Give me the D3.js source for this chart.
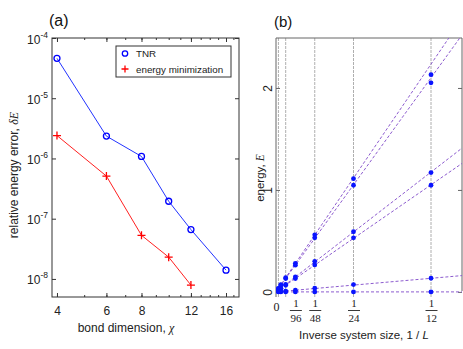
<!DOCTYPE html>
<html>
<head>
<meta charset="utf-8">
<script src="https://cdn.jsdelivr.net/npm/d3@7"></script>
<style>
  body { margin: 0; background: #fff; }
  svg { display: block; }
  text { font-family: "Liberation Sans", Arial, sans-serif; }
</style>
</head>
<body>
<script>
// ---- panel (a) data: relative energy error vs bond dimension ----
var chiTNR = [4, 6, 8, 10, 12, 16];
var errTNR = [4.6e-5, 2.35e-6, 1.08e-6, 1.95e-7, 6.6e-8, 1.4e-8];
var chiEM = [4, 6, 8, 10, 12];
var errEM = [2.4e-6, 5.1e-7, 5.3e-8, 2.3e-8, 7.9e-9];
var xTicksA = [4, 6, 8, 12, 16];
var xMinorA = [4, 5, 6, 7, 8, 9, 10, 11, 12, 13, 14, 15, 16, 17];
var yTicksA = [-4, -5, -6, -7, -8];

// ---- panel (b) data: energies vs inverse size ----
var sizes = [12, 24, 48, 96, 192, 384, 768];
var lev1 = [2.13, 1.11, 0.56, 0.28, 0.139, 0.07, 0.035];
var lev2 = [2.05, 1.046, 0.53, 0.262, 0.131, 0.065, 0.033];
var lev3 = [1.17, 0.59, 0.30, 0.148, 0.074, 0.037, 0.018];
var lev4 = [1.046, 0.53, 0.265, 0.131, 0.065, 0.033, 0.016];
var lev5 = [0.134, 0.072, 0.036, 0.016, 0.008, 0.004, 0.002];
var lev6 = [0, 0, 0, 0, 0, 0, 0];
var fitSlopes = [26.8, 25.2, 14.1, 12.6, 1.6, 0];   // dashed lines E = s / L
var gridSizes = [12, 24, 48, 192, 768];
var xTickDen = [96, 48, 24, 12];
var yTicksB = [0, 1, 2];

var W = 463, H = 349;
var svg = d3.select("body").append("svg").attr("width", W).attr("height", H);
var axCol = "#333";

// ================= panel (a) =================
var a = {left: 52, right: 239, top: 38, bottom: 297};
var xA = d3.scaleLog().domain([3.84, 17.8]).range([a.left, a.right]);
var yA = d3.scaleLog().domain([Math.pow(10, -8.3), 1e-4]).range([a.bottom, a.top]);

var gA = svg.append("g");

// box
gA.append("rect").attr("x", a.left).attr("y", a.top)
  .attr("width", a.right - a.left).attr("height", a.bottom - a.top)
  .attr("fill", "none").attr("stroke", axCol).attr("stroke-width", 1);

function styleAxis(g) {
  g.select(".domain").remove();
  g.selectAll("line").attr("stroke", axCol);
}

// minor + major ticks bottom/top
gA.append("g").attr("transform", "translate(0," + a.bottom + ")")
  .call(d3.axisBottom(xA).tickValues(xMinorA).tickSize(-2).tickFormat("")).call(styleAxis);
gA.append("g").attr("transform", "translate(0," + a.top + ")")
  .call(d3.axisTop(xA).tickValues(xMinorA).tickSize(-2).tickFormat("")).call(styleAxis);
gA.append("g").attr("transform", "translate(0," + a.top + ")")
  .call(d3.axisTop(xA).tickValues(xTicksA).tickSize(-4).tickFormat("")).call(styleAxis);
var xAxA = gA.append("g").attr("transform", "translate(0," + a.bottom + ")")
  .call(d3.axisBottom(xA).tickValues(xTicksA).tickSize(-4).tickPadding(9).tickFormat(d3.format("d")))
  .call(styleAxis);
xAxA.selectAll("text").attr("font-size", 12).attr("fill", "#222")
  .style("font-family", "'Liberation Sans', Arial, sans-serif");

// y ticks left/right
var yAxA = gA.append("g").attr("transform", "translate(" + a.left + ",0)")
  .call(d3.axisLeft(yA).tickValues(yTicksA.map(function(e) { return Math.pow(10, e); }))
    .tickSize(-4).tickFormat("")).call(styleAxis);
gA.append("g").attr("transform", "translate(" + a.right + ",0)")
  .call(d3.axisRight(yA).tickValues(yTicksA.map(function(e) { return Math.pow(10, e); }))
    .tickSize(-4).tickFormat("")).call(styleAxis);

yAxA.selectAll(".tick").append("text")
  .attr("x", -4).attr("y", 5).attr("text-anchor", "end").attr("fill", "#222")
  .attr("font-size", 12)
  .each(function(d) {
    var t = d3.select(this);
    t.append("tspan").text("10");
    t.append("tspan").attr("font-size", 8.5).attr("dy", -6)
      .text("-" + Math.round(-Math.log10(d)));
  });

// lines
var lineA = d3.line().x(function(d) { return xA(d[0]); }).y(function(d) { return yA(d[1]); });
var tnr = chiTNR.map(function(c, i) { return [c, errTNR[i]]; });
var em = chiEM.map(function(c, i) { return [c, errEM[i]]; });

gA.append("path").datum(tnr).attr("d", lineA)
  .attr("fill", "none").attr("stroke", "#2233ff").attr("stroke-width", 1);
gA.append("path").datum(em).attr("d", lineA)
  .attr("fill", "none").attr("stroke", "#ff2020").attr("stroke-width", 1);

gA.selectAll(".tnr").data(tnr).enter().append("circle")
  .attr("cx", function(d) { return xA(d[0]); })
  .attr("cy", function(d) { return yA(d[1]); })
  .attr("r", 3).attr("fill", "none").attr("stroke", "#0000ff").attr("stroke-width", 1.3);

function plus(g, x, y, s) {
  g.append("path").attr("d", "M" + (x - s) + "," + y + "H" + (x + s) + "M" + x + "," + (y - s) + "V" + (y + s))
    .attr("stroke", "#ff0000").attr("stroke-width", 1.3);
}
em.forEach(function(d) { plus(gA, xA(d[0]), yA(d[1]), 4); });

// legend
gA.append("rect").attr("x", 116).attr("y", 46).attr("width", 115).attr("height", 31)
  .attr("fill", "#fff").attr("stroke", axCol).attr("stroke-width", 1);
gA.append("circle").attr("cx", 125).attr("cy", 53.5).attr("r", 2.7)
  .attr("fill", "none").attr("stroke", "#0000ff").attr("stroke-width", 1.3);
plus(gA, 125, 69, 3.5);
gA.append("text").attr("x", 136).attr("y", 57).attr("font-size", 9.8).attr("fill", "#222").text("TNR");
gA.append("text").attr("x", 136).attr("y", 73).attr("font-size", 9.8).attr("fill", "#222").text("energy minimization");

// labels
gA.append("text").attr("x", 49).attr("y", 26).attr("font-size", 16).attr("fill", "#111").text("(a)");
gA.append("text").attr("x", 126).attr("y", 332).attr("text-anchor", "middle")
  .attr("font-size", 12).attr("fill", "#222")
  .html("bond dimension, <tspan font-family='Liberation Serif' font-style='italic'>χ</tspan>");
gA.append("text").attr("transform", "translate(18,175) rotate(-90)").attr("text-anchor", "middle")
  .attr("font-size", 12).attr("fill", "#222")
  .html("relative energy error, <tspan font-family='Liberation Serif' font-style='italic'>δE</tspan>");

// ================= panel (b) =================
var b = {left: 276, right: 462, top: 38, bottom: 297};
var xB = d3.scaleLinear().domain([0, 0.1]).range([b.left, b.right]);
var yB = d3.scaleLinear().domain([-0.05, 2.49]).range([b.bottom, b.top]);

var gB = svg.append("g");

gB.append("defs").append("clipPath").attr("id", "clipB")
  .append("rect").attr("x", b.left).attr("y", b.top)
  .attr("width", b.right - b.left).attr("height", b.bottom - b.top);

// grid lines
gB.selectAll(".grid").data(gridSizes).enter().append("line")
  .attr("x1", function(d) { return xB(1 / d); }).attr("x2", function(d) { return xB(1 / d); })
  .attr("y1", b.top).attr("y2", b.bottom + 1)
  .attr("stroke", "#9a9a9a").attr("stroke-width", 0.8).attr("stroke-dasharray", "3,1");

// axes lines
gB.append("path").attr("d", "M" + b.left + "," + b.bottom + "V" + b.top + "H" + b.right + "V" + (b.bottom - 6))
  .attr("fill", "none").attr("stroke", "#666").attr("stroke-width", 1);

var yAxB = gB.append("g").attr("transform", "translate(" + b.left + ",0)")
  .call(d3.axisLeft(yB).tickValues(yTicksB).tickSize(-4).tickFormat(d3.format("d")))
  .call(function(g) { g.select(".domain").remove(); g.selectAll("line").attr("stroke", "#666"); });
yAxB.selectAll("text").attr("font-size", 12).attr("fill", "#222")
  .style("font-family", "'Liberation Sans', Arial, sans-serif")
  .attr("text-anchor", "middle").attr("x", 0).attr("dy", 0)
  .attr("transform", "translate(-4,0) rotate(-90)");
gB.append("g").attr("transform", "translate(" + b.right + ",0)")
  .call(d3.axisRight(yB).tickValues(yTicksB).tickSize(-4).tickFormat(""))
  .call(function(g) { g.select(".domain").remove(); g.selectAll("line").attr("stroke", "#666"); });

// x tick labels (fractions)
var xAxB = gB.append("g").attr("transform", "translate(0," + b.bottom + ")")
  .call(d3.axisBottom(xB).tickValues([0].concat(xTickDen.map(function(d) { return 1 / d; })))
    .tickSize(0).tickFormat(""))
  .call(function(g) { g.select(".domain").remove(); });
xAxB.selectAll(".tick").each(function(d) {
  var t = d3.select(this);
  if (d === 0) {
    t.append("text").attr("y", 14).attr("text-anchor", "middle").attr("fill", "#222")
      .style("font-family", "'Liberation Serif', serif").attr("font-size", 12).text("0");
  } else {
    t.append("text").attr("y", 10).attr("text-anchor", "middle").attr("fill", "#222")
      .style("font-family", "'Liberation Serif', serif").attr("font-size", 11).text("1");
    t.append("line").attr("x1", -6).attr("x2", 6).attr("y1", 13.5).attr("y2", 13.5)
      .attr("stroke", "#222").attr("stroke-width", 0.9);
    t.append("text").attr("y", 24.5).attr("text-anchor", "middle").attr("fill", "#222")
      .style("font-family", "'Liberation Serif', serif").attr("font-size", 11).text(Math.round(1 / d));
  }
});

// dashed fit lines
var clipG = gB.append("g").attr("clip-path", "url(#clipB)");
clipG.selectAll(".fit").data(fitSlopes).enter().append("line")
  .attr("x1", xB(0)).attr("y1", function(s) { return yB(0); })
  .attr("x2", xB(0.1)).attr("y2", function(s) { return yB(s * 0.1); })
  .attr("stroke", "#8d5ccf").attr("stroke-width", 1).attr("stroke-dasharray", "3,2");

// points
var levels = [lev1, lev2, lev3, lev4, lev5, lev6];
var pts = [];
levels.forEach(function(lv) {
  lv.forEach(function(e, i) { pts.push([1 / sizes[i], e]); });
});
clipG.selectAll(".pt").data(pts).enter().append("circle")
  .attr("cx", function(d) { return xB(d[0]); })
  .attr("cy", function(d) { return yB(d[1]); })
  .attr("r", 2.4).attr("fill", "#0a14ff");

// labels
gB.append("text").attr("x", 274).attr("y", 27).attr("font-size", 15).attr("fill", "#111").text("(b)");
gB.append("text").attr("x", 364).attr("y", 339).attr("text-anchor", "middle")
  .attr("font-size", 11.5).attr("fill", "#222")
  .html("Inverse system size, 1 / <tspan font-style='italic'>L</tspan>");
gB.append("text").attr("transform", "translate(264,178) rotate(-90)").attr("text-anchor", "middle")
  .attr("font-size", 11.5).attr("fill", "#222")
  .html("energy, <tspan font-family='Liberation Serif' font-style='italic'>E</tspan>");
</script>
</body>
</html>
